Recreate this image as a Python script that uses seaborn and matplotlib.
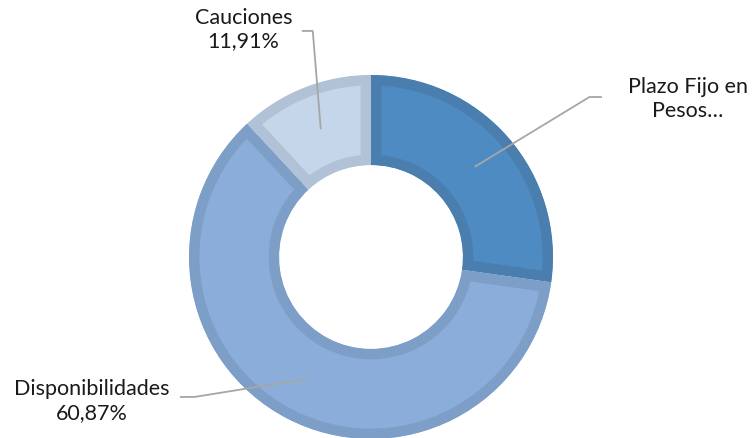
import numpy as np
import matplotlib
matplotlib.use("Agg")
import matplotlib.pyplot as plt
import seaborn as sns

sns.set_theme(style="white")
plt.rcParams['font.family'] = ['Lato', 'DejaVu Sans']

labels = ["Plazo Fijo en\nPesos…", "Disponibilidades\n60,87%", "Cauciones\n11,91%"]
values = [27.22, 60.87, 11.91]
fills = ["#4F8BC3", "#8AAED9", "#C5D5EA"]
borders = ["#4A7EAF", "#7D9EC6", "#B1C2D6"]

W, H = 752, 439
CX, CY, R = 371, 258, 182  # pixel centre and outer radius

fig = plt.figure(figsize=(W / 100, H / 100), dpi=100)
ax = fig.add_axes([0, 0, 1, 1])

wedges, _ = ax.pie(values, startangle=90, counterclock=False, colors=fills,
                   radius=1.0, wedgeprops=dict(width=0.495, linewidth=0))
ax.set_aspect("auto")
ax.set_xlim(-CX / R, (W - CX) / R)
ax.set_ylim(-(H - CY) / R, CY / R)
ax.axis("off")

# border drawn on the inside of each wedge
for w, bc in zip(wedges, borders):
    w.set_edgecolor(bc)
    w.set_linewidth(15)
    w.set_clip_on(True)
    w.set_clip_path(w)

# leader lines and labels (elbow / text positions are layout)
elbows = [(1.20, 0.879, 1.269), (-0.97, -0.769, -1.05), (-0.32, 1.242, -0.38)]
text_pos = [(1.74, 0.875), (-1.535, -0.785), (-0.70, 1.255)]
for w, (ex, ey, tx) in zip(wedges, elbows):
    mid = np.deg2rad((w.theta1 + w.theta2) / 2)
    px, py = 0.755 * np.cos(mid), 0.755 * np.sin(mid)
    ax.plot([px, ex, tx], [py, ey, ey], color="#A6A6A6", lw=1.3, solid_capstyle="butt")

for lab, (lx, ly) in zip(labels, text_pos):
    ax.text(lx, ly, lab, ha="center", va="center", fontsize=15.5,
            color="#1a1a1a", linespacing=1.22)

fig.savefig("out.png", dpi=100)
